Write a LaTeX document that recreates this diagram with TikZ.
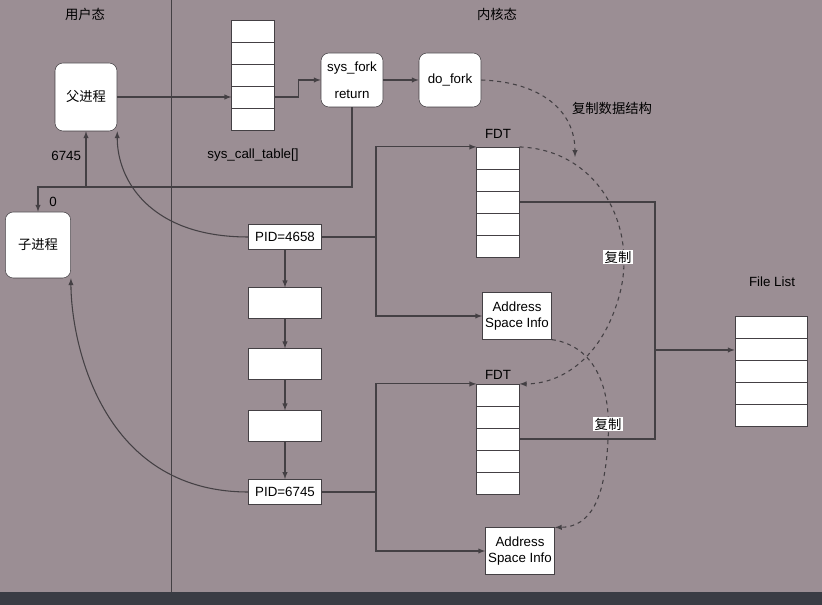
\documentclass[tikz,border=0pt]{standalone}
\usepackage{fontspec}
\setmainfont{Liberation Sans}
\newfontfamily\cjk{Noto Sans CJK SC}
\usetikzlibrary{positioning}
\definecolor{bgmauve}{HTML}{9B8E94}
\definecolor{barcol}{HTML}{3A3C44}
\definecolor{linecol}{HTML}{444044}
\tikzset{
  box/.style={draw=linecol,fill=white,rounded corners=6pt,minimum width=46.5pt,minimum height=51pt,align=center},
  rect/.style={draw=linecol,fill=white,minimum width=54.5pt,minimum height=19pt,inner sep=1pt},
  cell/.style={draw=linecol,fill=white,minimum width=32pt,minimum height=16.2pt},
  wide/.style={draw=linecol,fill=white,minimum width=54pt,minimum height=16.6pt},
  info/.style={draw=linecol,fill=white,align=center,minimum height=35pt,inner sep=2pt},
  conn/.style={draw=linecol,thick,-latex},
  plain/.style={draw=linecol,thick},
  copy/.style={draw=linecol,thick,dashed,-latex},
  tag/.style={fill=white,inner sep=1pt,font=\cjk}
}
\begin{document}
\begin{tikzpicture}[x=0.75pt,y=-0.75pt,font=\fontsize{10}{12}\selectfont]
        % background and bar
        \fill[bgmauve] (0,0) rectangle (822,592);
        \fill[barcol] (0,592) rectangle (822,605);
        \useasboundingbox (0,0) rectangle (822,605);
        \draw[linecol] (171,0) -- (171,592);

        \node[font=\cjk] (user) at (85,14) {用户态};
        \node[font=\cjk] (kernel) at (497,14) {内核态};

        % processes and calls
        \node[box,font=\cjk] (parent) at (86,97) {父进程};
        \node[box,font=\cjk,minimum width=49pt,minimum height=49.5pt] (child) at (38,245) {子进程};
        \foreach \i in {1,...,5}
                \node[cell] (sct\i) at (253,9+22*\i) {};
        \node (sctlabel) at (253,155) {sys\_call\_table[]};
        \node[box,minimum height=40.5pt] (fork) at (352,80) {sys\_fork\\[8pt]return};
        \node[box,minimum height=40.5pt] (dofork) at (450,80) {do\_fork};

        \draw[conn] (parent.east) -- (sct4.west);
        \draw[conn] (sct4.east) -- ++(24,0) |- (fork.west);
        \draw[conn] (fork.east) -- (dofork.west);
        \coordinate (ret) at (352,187);
        \coordinate (split) at (86,187);
        \draw[plain] (fork.south) -- (ret) -- (split);
        \draw[conn] (split) -| (child.north);
        \draw[conn] (split) -- (parent.south) node[pos=0.55,left] {6745};
        \node (zero) at (53,202) {0};

        % task list
        \node[rect] (pidA) at (285,237) {PID=4658};
        \node[rect,minimum height=23pt] (t1) at (285,303) {};
        \node[rect,minimum height=23pt] (t2) at (285,364) {};
        \node[rect,minimum height=23pt] (t3) at (285,426) {};
        \node[rect] (pidB) at (285,492) {PID=6745};
        \draw[conn] (pidA) -- (t1);
        \draw[conn] (t1) -- (t2);
        \draw[conn] (t2) -- (t3);
        \draw[conn] (t3) -- (pidB);
        \draw[conn] (pidA.west) .. controls (150,237) and (117,180) .. (parent.south east);
        \draw[conn] (pidB.west) .. controls (100,492) and (71,340) .. (child.south east);

        % file tables
        \foreach \i in {1,...,5} {
                \node[cell] (fa\i) at (498,136+22*\i) {};
                \node[cell] (fb\i) at (498,373+22*\i) {};
        }
        \node (fdtA) at (498,134) {FDT};
        \node (fdtB) at (498,375) {FDT};
        \node[info] (asiA) at (517,316) {Address\\Space Info};
        \node[info] (asiB) at (520,551) {Address\\Space Info};
        \foreach \i in {1,...,5}
                \node[wide] (fl\i) at (771,305+22*\i) {};
        \node (fllabel) at (772,282) {File List};

        \coordinate (busA) at (376,237);
        \coordinate (busB) at (376,492);
        \draw[plain] (pidA.east) -- (busA);
        \draw[plain] (pidB.east) -- (busB);
        \draw[conn] (busA) |- (fa1.north west);
        \draw[conn] (busA) |- (asiA.west);
        \draw[conn] (busB) |- (fb1.north west);
        \draw[conn] (busB) |- (asiB.west);
        \coordinate (merge) at (655,350);
        \draw[plain] (fa3.east) -| (merge);
        \draw[plain] (fb3.east) -| (merge);
        \draw[conn] (merge) -- (merge -| fl1.west);

        % copies
        \draw[copy] (dofork.east) .. controls (540,82) and (575,110) .. (575,157);
        \node[font=\cjk] (copydata) at (612,108) {复制数据结构};
        \draw[copy] (fa1.north east) .. controls (600,150) and (640,230) .. (618,300)
                .. controls (600,360) and (560,384) .. (fb1.north east);
        \node[tag] (copyA) at (618,257) {复制};
        \draw[copy] (asiA.south east) .. controls (590,345) and (612,380) .. (608,440)
                .. controls (605,500) and (590,527) .. (asiB.north east);
        \node[tag] (copyB) at (608,424) {复制};
\end{tikzpicture}
\end{document}
